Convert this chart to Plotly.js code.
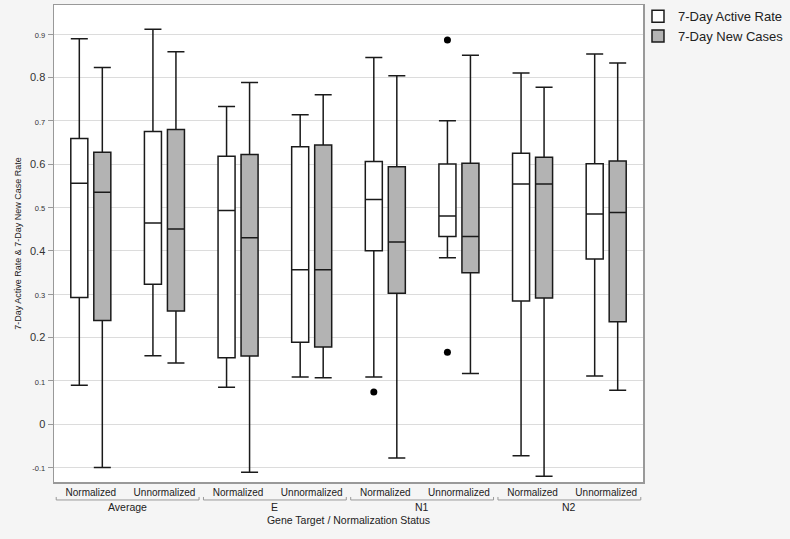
<!DOCTYPE html>
<html>
<head>
<meta charset="utf-8">
<script src="https://cdn.plot.ly/plotly-3.0.1.min.js"></script>
<style>html,body{margin:0;padding:0;background:#f5f5f5;}#chart{width:790px;height:539px;}</style>
</head>
<body>
<div id="chart"></div>
<script>
var groups = ['Average', 'E', 'N1', 'N2'];
var statuses = ['Normalized', 'Unnormalized'];
var categories = ['Average|Normalized', 'Average|Unnormalized', 'E|Normalized', 'E|Unnormalized',
                  'N1|Normalized', 'N1|Unnormalized', 'N2|Normalized', 'N2|Unnormalized'];
var categoryLabels = ['Normalized', 'Unnormalized', 'Normalized', 'Unnormalized',
                      'Normalized', 'Unnormalized', 'Normalized', 'Unnormalized'];

// 7-Day Active Rate
var activeUpper  = [0.889, 0.911, 0.733, 0.714, 0.846, 0.700, 0.810, 0.854];
var activeQ3     = [0.659, 0.675, 0.618, 0.640, 0.606, 0.600, 0.625, 0.601];
var activeMedian = [0.556, 0.464, 0.493, 0.356, 0.518, 0.480, 0.554, 0.485];
var activeQ1     = [0.292, 0.323, 0.153, 0.189, 0.400, 0.433, 0.284, 0.381];
var activeLower  = [0.090, 0.158, 0.085, 0.109, 0.109, 0.384, -0.073, 0.111];
// outliers of the 7-Day Active Rate
var outlierCategories = ['N1|Normalized', 'N1|Unnormalized', 'N1|Unnormalized'];
var outlierValues     = [0.074, 0.886, 0.166];

// 7-Day New Cases
var casesUpper  = [0.823, 0.859, 0.788, 0.760, 0.804, 0.851, 0.777, 0.833];
var casesQ3     = [0.627, 0.680, 0.622, 0.644, 0.594, 0.602, 0.616, 0.607];
var casesMedian = [0.535, 0.450, 0.430, 0.356, 0.420, 0.433, 0.554, 0.488];
var casesQ1     = [0.239, 0.261, 0.157, 0.178, 0.302, 0.349, 0.291, 0.236];
var casesLower  = [-0.100, 0.141, -0.111, 0.107, -0.078, 0.117, -0.120, 0.078];

var yTickVals = [-0.1, 0, 0.1, 0.2, 0.3, 0.4, 0.5, 0.6, 0.7, 0.8, 0.9];
var yTickLabels = ['-0.1', '0', '0.1', '0.2', '0.3', '0.4', '0.5', '0.6', '0.7', '0.8', '0.9'];

var FONT = 'Liberation Sans, Arial, Helvetica, sans-serif';

var active = {
  type: 'box', name: '7-Day Active Rate',
  x: categories,
  q1: activeQ1, median: activeMedian, q3: activeQ3,
  lowerfence: activeLower, upperfence: activeUpper,
  boxpoints: false,
  fillcolor: '#ffffff',
  line: {color: '#1a1a1a', width: 1.5},
  whiskerwidth: 1,
  offsetgroup: 'active',
  hoverinfo: 'skip'
};
var cases = {
  type: 'box', name: '7-Day New Cases',
  x: categories,
  q1: casesQ1, median: casesMedian, q3: casesQ3,
  lowerfence: casesLower, upperfence: casesUpper,
  boxpoints: false,
  fillcolor: '#b3b3b3',
  line: {color: '#1a1a1a', width: 1.5},
  whiskerwidth: 1,
  offsetgroup: 'cases',
  hoverinfo: 'skip'
};
var activeOut = {
  type: 'scatter', mode: 'markers', name: '7-Day Active Rate outliers',
  x: outlierCategories, y: outlierValues,
  marker: {color: '#000', size: 7},
  offsetgroup: 'active', showlegend: false, hoverinfo: 'skip'
};
var casesOut = {
  type: 'scatter', mode: 'markers', name: '7-Day New Cases outliers',
  x: categories, y: categories.map(function () { return null; }),
  marker: {color: '#000', size: 7},
  offsetgroup: 'cases', showlegend: false, hoverinfo: 'skip'
};

var yText = yTickVals.map(function (v, i) {
  var major = Math.round(v * 10) % 2 === 0;
  return major ? yTickLabels[i] : '<span style="font-size:7.5px">' + yTickLabels[i] + '</span>';
});

var annotations = groups.map(function (g, i) {
  return {
    text: g, xref: 'x', yref: 'paper', x: 2 * i + 0.5, y: -0.0524,
    xanchor: 'center', yanchor: 'middle', showarrow: false,
    font: {family: FONT, size: 10.5, color: '#222'}
  };
});

var shapes = [];
groups.forEach(function (g, i) {
  var x0 = 2 * i - 0.47, x1 = 2 * i + 1.47;
  var yb = -0.0377, yt = -0.0314;
  shapes.push({type: 'line', xref: 'x', yref: 'paper', x0: x0, x1: x1, y0: yb, y1: yb,
               line: {color: '#999', width: 1}});
  shapes.push({type: 'line', xref: 'x', yref: 'paper', x0: x0, x1: x0, y0: yb, y1: yt,
               line: {color: '#999', width: 1}});
  shapes.push({type: 'line', xref: 'x', yref: 'paper', x0: x1, x1: x1, y0: yb, y1: yt,
               line: {color: '#999', width: 1}});
});

var layout = {
  width: 790, height: 539,
  margin: {l: 54, r: 147, t: 5, b: 57, autoexpand: false},
  paper_bgcolor: '#f5f5f5', plot_bgcolor: '#ffffff',
  font: {family: FONT, color: '#222'},
  boxmode: 'group', boxgap: 0.375, boxgroupgap: 0.26,
  scattermode: 'group', scattergap: 0.375,
  showlegend: true,
  legend: {x: 0.9915, y: 1.008, xanchor: 'left', yanchor: 'top',
           font: {family: FONT, size: 13, color: '#222'}, bgcolor: 'rgba(0,0,0,0)',
           itemwidth: 30, tracegroupgap: 0},
  xaxis: {
    type: 'category', range: [-0.5, 7.5],
    tickmode: 'array', tickvals: categories, ticktext: categoryLabels,
    tickfont: {family: FONT, size: 10, color: '#222'},
    ticks: '', showgrid: false, zeroline: false,
    showline: true, mirror: true, linecolor: '#999', linewidth: 1.5,
    title: {text: 'Gene Target / Normalization Status', font: {family: FONT, size: 10.5, color: '#222'}, standoff: 20}
  },
  yaxis: {
    range: [-0.1335, 0.967],
    tickmode: 'array', tickvals: yTickVals, ticktext: yText,
    tickfont: {family: FONT, size: 11, color: '#333'},
    ticks: 'outside', ticklen: 5, tickcolor: '#999', tickwidth: 1,
    showgrid: true, gridcolor: '#dcdcdc', gridwidth: 1, zeroline: false,
    showline: true, mirror: true, linecolor: '#999', linewidth: 1.5,
    title: {text: '7-Day Active Rate & 7-Day New Case Rate', font: {family: FONT, size: 9, color: '#222'}, standoff: 7}
  },
  annotations: annotations,
  shapes: shapes
};

Plotly.newPlot('chart', [active, cases, activeOut, casesOut], layout, {displayModeBar: false, staticPlot: true});
</script>
</body>
</html>
